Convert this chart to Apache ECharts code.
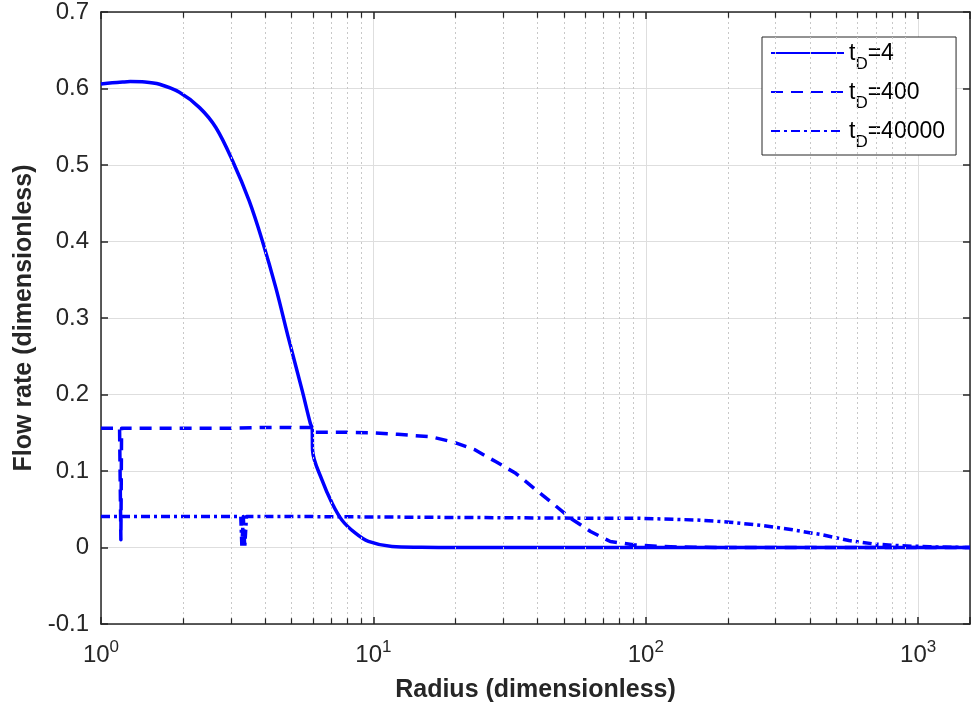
<!DOCTYPE html>
<html>
<head>
<meta charset="utf-8">
<script src="https://cdn.jsdelivr.net/npm/echarts@6/dist/echarts.min.js"></script>
<style>
  html, body { margin: 0; padding: 0; background: #ffffff; }
  #chart { width: 973px; height: 710px; }
</style>
</head>
<body>
<div id="chart"></div>
<script>
// Dimensionless flow rate versus dimensionless radius, one curve per dimensionless time t_D.

const radiusT4 = [1, 1.1, 1.2, 1.28, 1.45, 1.64, 1.94, 2.3, 2.64, 3.04, 3.5, 3.91, 4.38, 4.9, 5.47, 5.87, 5.96, 5.98, 6.48, 7.05, 7.66, 8.57, 9.59, 11.7, 15, 20, 100, 1550];
const flowT4   = [0.606, 0.6075, 0.6085, 0.609, 0.6085, 0.6055, 0.595, 0.575, 0.549, 0.5055, 0.453, 0.401, 0.340, 0.271, 0.206, 0.162, 0.156, 0.127, 0.088, 0.058, 0.036, 0.019, 0.008, 0.0013, 0.0003, 0, 0, 0];

const radiusT400 = [1, 1.17, 1.183, 1.19, 2, 3, 4, 5, 5.9, 5.97, 8, 10, 12.3, 16.3, 19.6, 23.5, 28.2, 33.3, 38.9, 45.4, 52.9, 62.7, 74.1, 90.2, 113, 150, 200, 1550];
const flowT400   = [0.156, 0.156, 0.010, 0.156, 0.156, 0.156, 0.157, 0.157, 0.157, 0.1505, 0.1505, 0.150, 0.148, 0.1447, 0.138, 0.128, 0.112, 0.097, 0.0774, 0.058, 0.0383, 0.021, 0.0078, 0.0035, 0.0013, 0.0003, 0, 0];

const radiusT40000 = [1, 3.26, 3.29, 3.33, 3.37, 3.42, 5.9, 5.97, 60, 95.3, 153, 203, 269, 346, 445, 557, 697, 871, 1100, 1300, 1550];
const flowT40000   = [0.0404, 0.0404, 0.001, 0.0404, 0, 0.0404, 0.0404, 0.0383, 0.0383, 0.0381, 0.036, 0.0331, 0.0287, 0.0231, 0.0166, 0.0091, 0.0044, 0.0022, 0.001, 0.0003, 0];

// legend values of t_D, in drawing order
const timeLabels = ['4', '400', '40000'];

// axis ranges
const xMin = 1, xMax = 1550;
const yMin = -0.1, yMax = 0.7, yStep = 0.1;

// minor (non-decade) radius gridlines on the log axis
const minorRadii = [2, 3, 4, 5, 6, 7, 8, 9, 20, 30, 40, 50, 60, 70, 80, 90, 200, 300, 400, 500, 600, 700, 800, 900];

const FONT = '"Liberation Sans", Arial, Helvetica, sans-serif';
const INK = '#262626';
const BLUE = '#0000ff';
const lineDashes = ['solid', [12, 8], [9, 4, 3, 4]];
// only the smooth t_D=4 profile is drawn with curve smoothing; the others keep sharp spikes
const smoothing = [0.35, false, false];

const pairs = (xs, ys) => xs.map((x, i) => [x, ys[i]]);
const curves = [pairs(radiusT4, flowT4), pairs(radiusT400, flowT400), pairs(radiusT40000, flowT40000)];
const names = timeLabels.map(t => 'tD=' + t);

// short inward tick marks at minor positions, bottom and top edges (in data units)
const tickLen = 0.0075;
const minorTickLines = [];
minorRadii.forEach(v => {
  minorTickLines.push([{ coord: [v, yMin] }, { coord: [v, yMin + tickLen] }]);
  minorTickLines.push([{ coord: [v, yMax] }, { coord: [v, yMax - tickLen] }]);
});

const chart = echarts.init(document.getElementById('chart'), null, { renderer: 'canvas' });

const dataSeries = curves.map((pts, i) => ({
  name: names[i],
  type: 'line',
  xAxisIndex: 0,
  yAxisIndex: 0,
  data: pts,
  showSymbol: false,
  symbol: 'none',
  smooth: smoothing[i],
  z: 3,
  itemStyle: { color: BLUE },
  lineStyle: { color: BLUE, width: 3.5, type: lineDashes[i], cap: 'butt', join: 'round' }
}));

const option = {
  animation: false,
  backgroundColor: '#ffffff',
  grid: { left: 101, top: 11, width: 874, height: 613, containLabel: false },
  xAxis: [
    {
      type: 'log', logBase: 10, min: xMin, max: xMax, position: 'bottom',
      name: 'Radius (dimensionless)', nameLocation: 'middle', nameGap: 54,
      nameTextStyle: { fontFamily: FONT, fontSize: 25, fontWeight: 'bold', color: INK },
      axisLine: { show: true, onZero: false, lineStyle: { color: INK, width: 1.5 } },
      axisTick: { show: true, inside: true, length: 7, lineStyle: { color: INK, width: 1.5 } },
      axisLabel: {
        margin: 18, color: INK, fontFamily: FONT,
        formatter: v => {
          const e = Math.log10(v);
          if (Math.abs(e - Math.round(e)) > 1e-6) return '';
          return '{b|10}{s|' + Math.round(e) + '}';
        },
        rich: {
          b: { fontFamily: FONT, fontSize: 24, color: INK, lineHeight: 26 },
          s: { fontFamily: FONT, fontSize: 17, color: INK, lineHeight: 17, padding: [0, 0, 16, 0] }
        }
      },
      splitLine: { show: true, lineStyle: { color: '#dedede', width: 1 } }
    },
    {
      type: 'log', logBase: 10, min: xMin, max: xMax, position: 'top',
      axisLine: { show: true, onZero: false, lineStyle: { color: INK, width: 1.5 } },
      axisTick: { show: true, inside: true, length: 7, lineStyle: { color: INK, width: 1.5 } },
      axisLabel: { show: false },
      splitLine: { show: false }
    }
  ],
  yAxis: [
    {
      type: 'value', min: yMin, max: yMax, interval: yStep, position: 'left',
      name: 'Flow rate (dimensionless)', nameLocation: 'middle', nameGap: 64,
      nameTextStyle: { fontFamily: FONT, fontSize: 25, fontWeight: 'bold', color: INK },
      axisLine: { show: true, onZero: false, lineStyle: { color: INK, width: 1.5 } },
      axisTick: { show: true, inside: true, length: 7, lineStyle: { color: INK, width: 1.5 } },
      axisLabel: {
        margin: 12, color: INK, fontFamily: FONT, fontSize: 24,
        formatter: v => String(Number(v.toFixed(1)))
      },
      splitLine: { show: true, lineStyle: { color: '#dedede', width: 1 } }
    },
    {
      type: 'value', min: yMin, max: yMax, interval: yStep, position: 'right',
      axisLine: { show: true, onZero: false, lineStyle: { color: INK, width: 1.5 } },
      axisTick: { show: true, inside: true, length: 7, lineStyle: { color: INK, width: 1.5 } },
      axisLabel: { show: false },
      splitLine: { show: false }
    }
  ],
  legend: {
    data: names,
    orient: 'vertical',
    left: 762, top: 37,
    itemWidth: 73, itemHeight: 14, itemGap: 8,
    padding: [5, 11, 4, 8],
    backgroundColor: '#ffffff',
    borderColor: INK, borderWidth: 1, borderRadius: 0,
    selectedMode: false,
    itemStyle: { opacity: 0 },
    textStyle: {
      fontFamily: FONT, color: '#000000',
      rich: {
        t: { fontFamily: FONT, fontSize: 23, color: '#000000', lineHeight: 22, verticalAlign: 'top' },
        d: { fontFamily: FONT, fontSize: 17, color: '#000000', lineHeight: 16, verticalAlign: 'top', padding: [14, 0, 0, 0] }
      }
    },
    formatter: name => '{t|t}{d|D}{t|=' + name.split('=')[1] + '}'
  },
  series: [
    {
      name: 'minor grid',
      type: 'line',
      data: [],
      silent: true,
      z: 1,
      markLine: {
        silent: true, symbol: ['none', 'none'], animation: false,
        label: { show: false },
        lineStyle: { type: [2, 3], color: '#c8c8c8', width: 1 },
        data: minorRadii.map(v => ({ xAxis: v }))
      }
    },
    {
      name: 'minor ticks',
      type: 'line',
      data: [],
      silent: true,
      z: 4,
      markLine: {
        silent: true, symbol: ['none', 'none'], animation: false,
        label: { show: false },
        lineStyle: { type: 'solid', color: INK, width: 1.2 },
        data: minorTickLines
      }
    }
  ].concat(dataSeries)
};

chart.setOption(option);
</script>
</body>
</html>
